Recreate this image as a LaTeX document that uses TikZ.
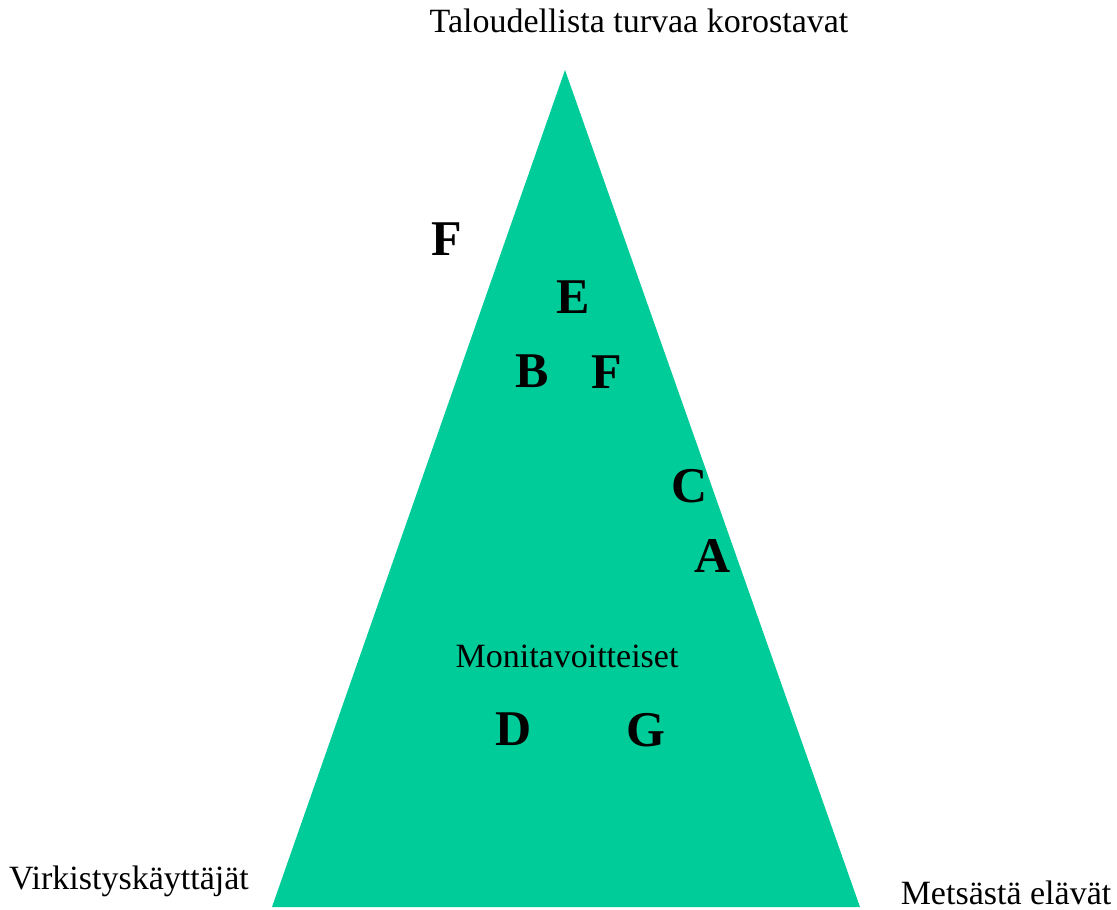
\documentclass[tikz,border=0pt]{standalone}
\usepackage{fontspec}
\setmainfont{Liberation Serif}
\usepackage{tikz}
\usetikzlibrary{positioning}
\definecolor{fieldgreen}{RGB}{0,204,153}
\tikzset{groupname/.style={
    % Corner and centre labels
    anchor=base,
    inner sep=0pt,
    font=\fontsize{17}{19}\selectfont
    },
    owner/.style={
    % Single bold letters
    anchor=base,
    inner sep=0pt,
    font=\fontsize{25}{28}\selectfont\bfseries
    },
}

\begin{document}
\begin{tikzpicture}[x=0.5pt,y=-0.5pt]
    \useasboundingbox (0,0) rectangle (1117,909);

    % The triangle
    \coordinate (top)   at (565,70);
    \coordinate (left)  at (272,907);
    \coordinate (right) at (860,907);
    \fill[fieldgreen] (top) -- (left) -- (right) -- cycle;

    % Corners and centre
    \node (econ)  [groupname] at (639,33)  {Taloudellista turvaa korostavat};
    \node (recr)  [groupname] at (129,889) {Virkistyskäyttäjät};
    \node (hunt)  [groupname] at (1006,904) {Metsästä elävät};
    \node (multi) [groupname] at (567,667) {Monitavoitteiset};

    % Owners
    \node (f1) [owner] at (447,256) {F};
    \node (e)  [owner] at (573,313) {E};
    \node (b)  [owner] at (532,387) {B};
    \node (f2) [owner] at (607,388) {F};
    \node (c)  [owner] at (690,502) {C};
    \node (a)  [owner] at (713,572) {A};
    \node (d)  [owner] at (514,745) {D};
    \node (g)  [owner] at (646,746) {G};
\end{tikzpicture}
\end{document}
